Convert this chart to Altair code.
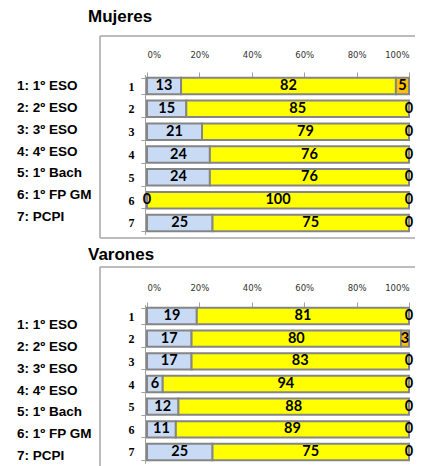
import altair as alt
import pandas as pd

rows = ["1", "2", "3", "4", "5", "6", "7"]
row_labels = ["1: 1º ESO", "2: 2º ESO", "3: 3º ESO", "4: 4º ESO",
              "5: 1º Bach", "6: 1º FP GM", "7: PCPI"]
series = ["A", "B", "C"]
colors = ["#C9DAF5", "#FFFF00", "#FFC000"]

mujeres_a = [13, 15, 21, 24, 24, 0, 25]
mujeres_b = [82, 85, 79, 76, 76, 100, 75]
mujeres_c = [5, 0, 0, 0, 0, 0, 0]

varones_a = [19, 17, 17, 6, 12, 11, 25]
varones_b = [81, 80, 83, 94, 88, 89, 75]
varones_c = [0, 3, 0, 0, 0, 0, 0]

x_ticks = [0, 20, 40, 60, 80, 100]

PLOT_W = 315
PLOT_H = 202
FRAME = "#A6A6A6"


def make_df(a, b, c):
    recs = []
    for i, r in enumerate(rows):
        for k, (s, v) in enumerate(zip(series, [a[i], b[i], c[i]])):
            recs.append({"row": r, "series": s, "order": k, "value": v})
    return pd.DataFrame(recs)


def frame_layers():
    one = alt.Chart(pd.DataFrame({"k": [0]}))
    left = one.mark_rule(color=FRAME, strokeWidth=1.5).encode(
        x=alt.value(0), y=alt.value(0), y2=alt.value(PLOT_H))
    top = one.mark_rule(color=FRAME, strokeWidth=1.5).encode(
        x=alt.value(0), x2=alt.value(PLOT_W), y=alt.value(0))
    bottom = one.mark_rule(color=FRAME, strokeWidth=1.5).encode(
        x=alt.value(0), x2=alt.value(PLOT_W), y=alt.value(PLOT_H))
    return [left, top, bottom]


def panel(title, a, b, c, yrange, legrange, xoff, xpad, toff):
    df = make_df(a, b, c)
    xscale = alt.Scale(domain=[0, 100], range=[47, 309], nice=False, zero=False)
    yscale = alt.Scale(domain=rows, range=yrange, paddingInner=0.28, paddingOuter=0.14)
    base = alt.Chart(df).transform_stack(
        stack="value", groupby=["row"], as_=["x0", "x1"],
        sort=[alt.SortField("order", "ascending")]
    ).transform_calculate(mid="(datum.x0 + datum.x1) / 2")

    bars = base.mark_bar(stroke="#858585", strokeWidth=2).encode(
        x=alt.X("x0:Q", scale=xscale,
                axis=alt.Axis(orient="top", offset=xoff, values=x_ticks,
                              labelExpr="datum.value + '%'", domain=False, grid=False,
                              tickSize=5, tickColor="#A0A0A0", labelPadding=xpad,
                              labelFont="DejaVu Sans", labelFontSize=8.5,
                              labelColor="#333333", title=None)),
        x2="x1:Q",
        y=alt.Y("row:O", scale=yscale,
                axis=alt.Axis(orient="left", offset=-45, tickBand="extent", tickSize=4,
                              tickColor="#A0A0A0", domainColor="#A0A0A0",
                              labelFont="Liberation Serif", labelFontWeight="bold",
                              labelFontSize=12, labelColor="#000000", labelPadding=7,
                              labelAngle=0, title=None)),
        color=alt.Color("series:N", scale=alt.Scale(domain=series, range=colors), legend=None),
    )
    texts = base.mark_text(font="Lato", fontWeight="bold", fontSize=14.5, color="#000000").encode(
        x=alt.X("mid:Q", scale=xscale),
        y=alt.Y("row:O", scale=yscale),
        text="value:Q",
    )
    leg_df = pd.DataFrame({"label": row_labels})
    legend = alt.Chart(leg_df).mark_text(
        align="left", font="Liberation Sans", fontWeight="bold", fontSize=13.5, color="#000000"
    ).encode(
        x=alt.value(-83),
        y=alt.Y("label:N", scale=alt.Scale(domain=row_labels, range=legrange), axis=None, sort=row_labels),
        text="label:N",
    )
    bar_layer = alt.layer(bars, texts)
    return alt.layer(bar_layer, legend, *frame_layers()).resolve_scale(y="independent").properties(
        width=PLOT_W, height=PLOT_H,
        title=alt.TitleParams(title, anchor="start", frame="group", dx=-12, fontSize=17,
                              font="Liberation Sans", fontWeight="bold", color="#000000",
                              offset=toff),
    )


p1 = panel("Mujeres", mujeres_a, mujeres_b, mujeres_c,
           [38.6, 198.4], [39.1, 191.9], -41, 13, 4)
p2 = panel("Varones", varones_a, varones_b, varones_c,
           [37.7, 196.3], [47.1, 199.9], -40, 9.5, -2.5)

chart = alt.vconcat(p1, p2, spacing=6).properties(
    padding={"left": 9, "top": 0, "right": 0, "bottom": 0}
).configure_view(stroke=None)

chart.save("out.html", embed_options={"renderer": "svg", "actions": False})
